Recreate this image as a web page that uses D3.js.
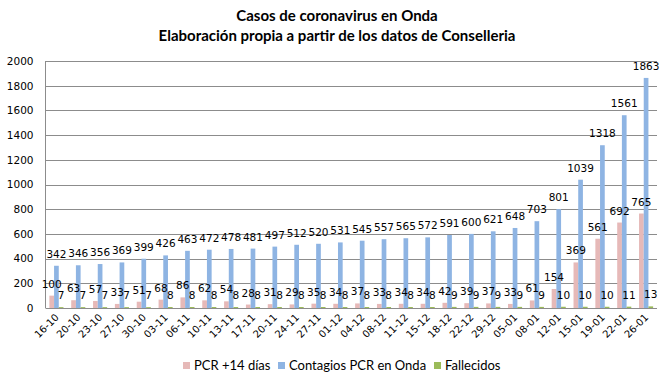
<!DOCTYPE html>
<html><head><meta charset="utf-8">
<script src="https://cdn.jsdelivr.net/npm/d3@7"></script>
<style>body{margin:0;background:#fff}svg{display:block}</style>
</head><body>
<svg id="c" width="670" height="377"></svg>
<script>
const categories = ["16-10","20-10","23-10","27-10","30-10","03-11","06-11","10-11","13-11","17-11","20-11","24-11","27-11","01-12","04-12","08-12","11-12","15-12","18-12","22-12","29-12","05-01","08-01","12-01","15-01","19-01","22-01","26-01"];
const pcr14 = [100,63,57,33,51,68,86,62,54,28,31,29,35,34,37,33,34,34,42,39,37,33,61,154,369,561,692,765];
const contagios = [342,346,356,369,399,426,463,472,478,481,497,512,520,531,545,557,565,572,591,600,621,648,703,801,1039,1318,1561,1863];
const fallecidos = [7,7,7,7,7,8,8,8,8,8,8,8,8,8,8,8,8,8,9,9,9,9,9,10,10,10,11,13];
const yTicks = [0,200,400,600,800,1000,1200,1400,1600,1800,2000];
const seriesNames = ["PCR +14 días","Contagios PCR en Onda","Fallecidos"];
const colors = ["#e6b9b8","#8eb4e3","#9bbb59"];
const series = [pcr14, contagios, fallecidos];

const svg = d3.select("#c");
const L = 45.5, R = 657, T = 61, B = 308;
const x = d3.scaleBand().domain(categories).range([L, R]).paddingInner(0).paddingOuter(0);
const y = d3.scaleLinear().domain([0, 2000]).range([B, T]);
const bw = x.bandwidth() * 0.215;
const sub = d3.scaleBand().domain([0,1,2]).range([-1.5*bw, 1.5*bw]);

// titles
svg.append("text").attr("x", 337).attr("y", 21).attr("text-anchor","middle")
  .style("font-family","Lato").style("font-weight","bold").style("font-size","15px").text("Casos de coronavirus en Onda");
svg.append("text").attr("x", 337).attr("y", 41).attr("text-anchor","middle")
  .style("font-family","Lato").style("font-weight","bold").style("font-size","15px").text("Elaboración propia a partir de los datos de Conselleria");

// gridlines
svg.append("g").selectAll("line").data(yTicks.filter(d=>d>0)).join("line")
  .attr("x1", L).attr("x2", R).attr("y1", d=>Math.round(y(d))+0.5).attr("y2", d=>Math.round(y(d))+0.5)
  .attr("stroke","#8c8c8c").attr("stroke-width",1);

// y axis
const ya = svg.append("g").attr("transform",`translate(${L},0)`)
  .call(d3.axisLeft(y).tickValues(yTicks).tickFormat(d3.format("d")).tickSize(0).tickPadding(12));
ya.select(".domain").remove();
ya.selectAll("text").style("font-family","DejaVu Sans").style("font-size","10.5px").attr("fill","#000");
svg.append("line").attr("x1",L).attr("x2",L).attr("y1",T).attr("y2",B).attr("stroke","#8c8c8c");

// bars
series.forEach((vals, si) => {
  svg.append("g").selectAll("rect").data(vals).join("rect")
    .attr("x", (d,i)=> x(categories[i]) + x.bandwidth()/2 + sub(si))
    .attr("width", bw)
    .attr("y", d=>y(d)).attr("height", d=>B - y(d))
    .attr("fill", colors[si]);
});

// x axis line
svg.append("line").attr("x1",L).attr("x2",R).attr("y1",B+0.5).attr("y2",B+0.5).attr("stroke","#8c8c8c");

// data labels
series.forEach((vals, si) => {
  svg.append("g").selectAll("text").data(vals).join("text")
    .attr("x", (d,i)=> x(categories[i]) + x.bandwidth()/2 + sub(si) + bw/2)
    .attr("y", d=> y(d) - 8)
    .attr("text-anchor","middle")
    .style("font-family","DejaVu Sans").style("font-size","10.5px").attr("fill","#000")
    .text(d=>d);
});

// x labels
svg.append("g").selectAll("text").data(categories).join("text")
  .attr("transform", d=>`translate(${x(d)+x.bandwidth()/2+3},${B+10}) rotate(-45)`)
  .attr("text-anchor","end")
  .style("font-family","DejaVu Sans").style("font-size","10px").attr("fill","#000")
  .text(d=>d);

// legend
const legX = [183, 278, 434];
const lg = svg.append("g");
seriesNames.forEach((n,i)=>{
  lg.append("rect").attr("x",legX[i]).attr("y",362).attr("width",7).attr("height",7).attr("fill",colors[i]);
  lg.append("text").attr("x",legX[i]+11).attr("y",370)
    .style("font-family","Lato").style("font-size","13px").attr("fill","#000").text(n);
});
</script>
</body></html>
